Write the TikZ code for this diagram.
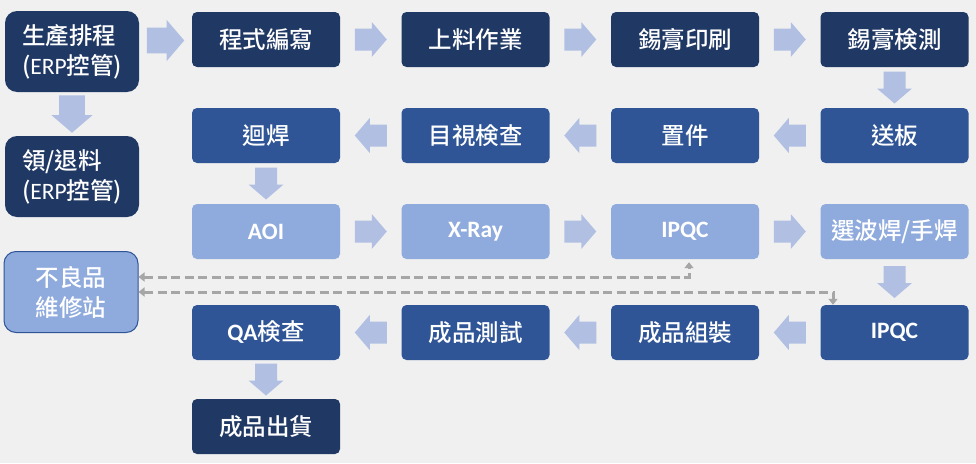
\documentclass[tikz,border=0pt]{standalone}
\usepackage{fontspec}
\setmainfont{Carlito}
\newfontfamily\cjk{Noto Sans CJK TC Medium}
\newfontfamily\lat{Carlito}
\usetikzlibrary{arrows.meta,calc}
\definecolor{bgc}{HTML}{F0F0F0}
\definecolor{darkc}{HTML}{203864}
\definecolor{medc}{HTML}{2F5597}
\definecolor{lightc}{HTML}{8FAADC}
\definecolor{arrc}{HTML}{B0BFE2}
\definecolor{dashc}{HTML}{A6A6A6}
\tikzset{
  box/.style={rounded corners=5pt, minimum width=148pt, minimum height=55pt, inner sep=0pt,
    text=white, align=center, font=\cjk\fontsize{23.5}{30}\selectfont},
  bigbox/.style={box, rounded corners=12pt, minimum width=134pt, minimum height=81pt},
  leftbox/.style={bigbox, align=left, text width=100pt},
  dk/.style={fill=darkc},
  md/.style={fill=medc},
  lt/.style={fill=lightc},
  pics/blockarr/.style={code={
    \fill[arrc] (-16,-11) -- (1,-11) -- (1,-17.5) -- (16,0) -- (1,17.5) -- (1,11) -- (-16,11) -- cycle;}},
  back/.style={draw=dashc, line width=3pt, dash pattern=on 9pt off 4.5pt,
    {Triangle[width=9pt,length=6pt]}-{Triangle[width=9pt,length=6pt]}},
  lb/.style={font=\lat\bfseries\fontsize{23.5}{30}\selectfont}
}
\begin{document}
\begin{tikzpicture}[x=1pt,y=-1pt]
\fill[bgc] (0,0) rectangle (976,463);
\useasboundingbox (0,0) rectangle (976,463);
% left column
\node[leftbox,dk] (prod) at (72,51.5) {生產排程\\({\lat ERP}控管)};
\node[leftbox,dk] (mat) at (72,176.5) {領/退料\\({\lat ERP}控管)};
\node[bigbox,lt,draw=medc,line width=1pt] (repair) at (71,292) {不良品\\維修站};
% row 1
\node[box,dk] (a1) at (266,39.5) {程式編寫};
\node[box,dk] (a2) at (475.5,39.5) {上料作業};
\node[box,dk] (a3) at (685,39.5) {錫膏印刷};
\node[box,dk] (a4) at (894.5,39.5) {錫膏検測};
% row 2
\node[box,md] (b1) at (266,135.5) {迴焊};
\node[box,md] (b2) at (475.5,135.5) {目視検查};
\node[box,md] (b3) at (685,135.5) {置件};
\node[box,md] (b4) at (894.5,135.5) {送板};
% row 3
\node[box,lt,lb] (c1) at (266,231.5) {AOI};
\node[box,lt,lb] (c2) at (475.5,231.5) {X-Ray};
\node[box,lt,lb] (c3) at (685,231.5) {IPQC};
\node[box,lt] (c4) at (894.5,231.5) {選波焊/手焊};
% row 4
\node[box,md] (d1) at (266,332.5) {{\lat\bfseries QA}検查};
\node[box,md] (d2) at (475.5,332.5) {成品測試};
\node[box,md] (d3) at (685,332.5) {成品組裝};
\node[box,md,lb] (d4) at (894.5,332.5) {IPQC};
% row 5
\node[box,dk] (e1) at (266,426.5) {成品出貨};
% block arrows
\pic[scale=1.17] at ($([yshift=-2pt]prod.east |- a1)!0.5!(a1.west)$) {blockarr};
\pic[scale=1.17,rotate=-90] at ($(prod.south)!0.5!(mat.north)$) {blockarr};
\foreach \p/\q in {a1/a2,a2/a3,a3/a4,c1/c2,c2/c3,c3/c4}
  \pic at ($(\p.east)!0.5!(\q.west)$) {blockarr};
\foreach \p/\q in {b4/b3,b3/b2,b2/b1,d4/d3,d3/d2,d2/d1}
  \pic[rotate=180] at ($(\p.west)!0.5!(\q.east)$) {blockarr};
\foreach \p/\q in {a4/b4,b1/c1,c4/d4,d1/e1}
  \pic[rotate=-90] at ($(\p.south)!0.5!(\q.north)$) {blockarr};
% dashed rework loops
\draw[back] ([yshift=15pt]repair.east) -| ([xshift=4pt,yshift=-3pt]c3.south);
\draw[back] (repair.east) -| ([xshift=-61.5pt]d4.north);
\end{tikzpicture}
\end{document}
